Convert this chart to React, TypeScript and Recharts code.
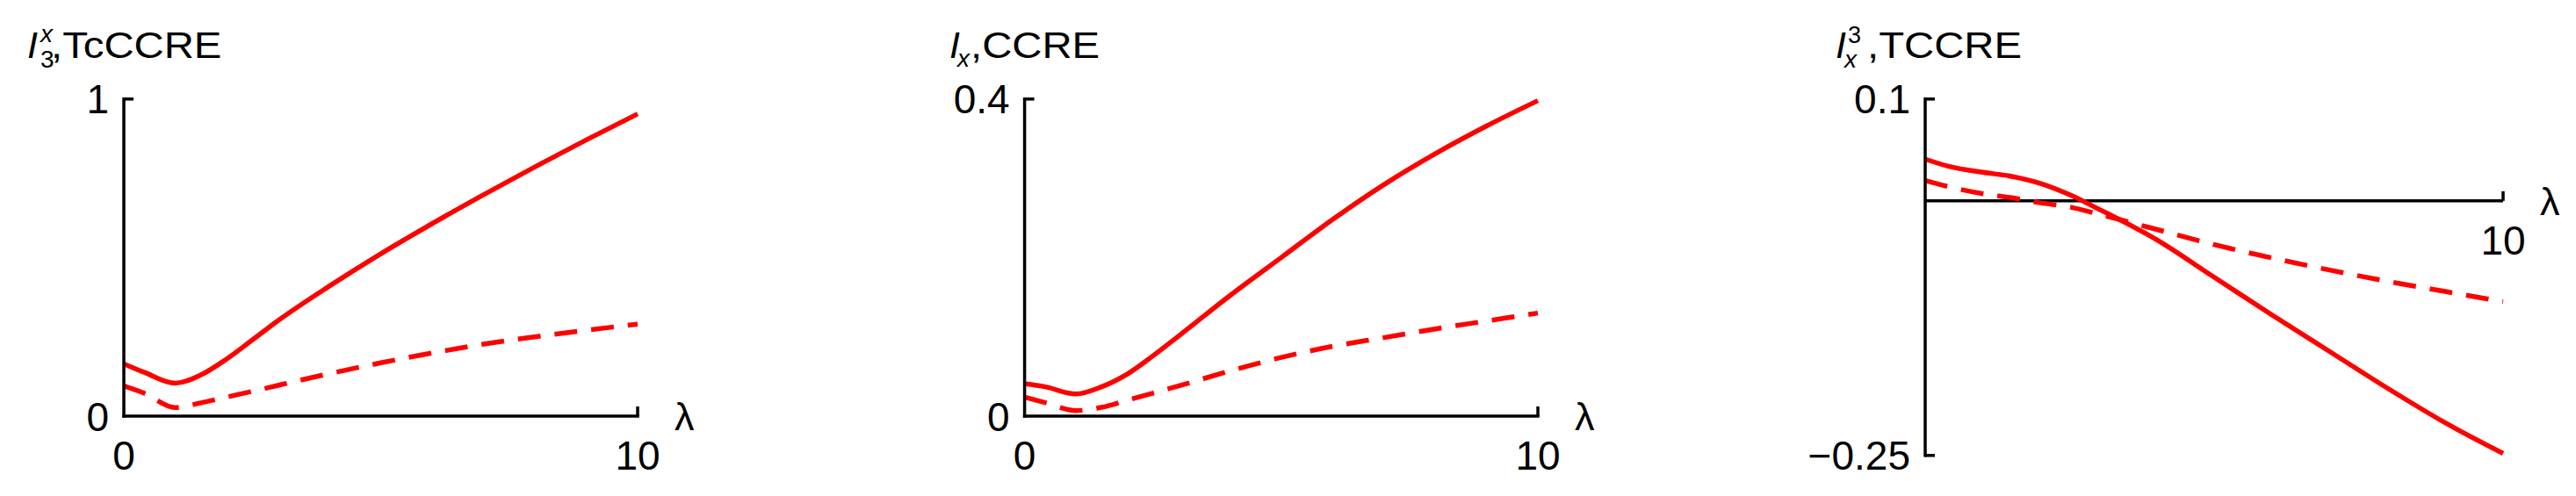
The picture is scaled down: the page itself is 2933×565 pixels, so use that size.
import { LineChart, Line, XAxis, YAxis, ReferenceLine, ReferenceDot } from 'recharts';

// lambda grid shared by all three panels
const lambda = [0, 0.4, 1, 1.5, 2, 2.5, 3, 4, 5, 6, 7, 8, 9, 10];

// left panel: I_3^x / TcCCRE
const tcSolid = [0.165, 0.138, 0.104, 0.13, 0.18, 0.24, 0.301, 0.41, 0.512, 0.607, 0.698, 0.786, 0.871, 0.953];
const tcDashed = [0.095, 0.072, 0.027, 0.042, 0.06, 0.078, 0.097, 0.134, 0.168, 0.199, 0.227, 0.25, 0.271, 0.29];

// middle panel: I_x / CCRE
const cSolid = [0.041, 0.037, 0.028, 0.037, 0.053, 0.076, 0.101, 0.152, 0.2, 0.248, 0.292, 0.331, 0.366, 0.398];
const cDashed = [0.024, 0.017, 0.007, 0.011, 0.02, 0.029, 0.038, 0.057, 0.074, 0.088, 0.099, 0.11, 0.12, 0.13];

// right panel: I_x^3 / TCCRE
const tSolid = [0.041, 0.034, 0.028, 0.024, 0.017, 0.006, -0.008, -0.038, -0.075, -0.112, -0.148, -0.184, -0.218, -0.248];
const tDashed = [0.02, 0.014, 0.007, 0.003, -0.002, -0.006, -0.013, -0.028, -0.043, -0.056, -0.068, -0.079, -0.089, -0.099];

const xTicks = [0, 10];
const yTicks1 = [0, 1];
const yTicks2 = [0, 0.4];
const yTicks3 = [-0.25, 0.1];
const yLabels3: Record<string, string> = { '-0.25': '\u22120.25', '0.1': '0.1' };

const FONT = '"Liberation Sans", Arial, Helvetica, sans-serif';
const RED = '#ff0000';
const AX = 3.5;
const LW = 5.5;
const Y_W = 60;
const X_H = 70;

const build = (a: number[], b: number[]) => lambda.map((l, i) => ({ lambda: l, solid: a[i], dashed: b[i] }));

const data1 = build(tcSolid, tcDashed);
const data2 = build(cSolid, cDashed);
const data3 = build(tSolid, tDashed);

const axisLine = { stroke: '#000', strokeWidth: AX, strokeLinecap: 'square' as const };

function XTick(props: any) {
  const { x, y, payload } = props;
  const last = payload.value === 10;
  return (
    <g>
      {last && <line x1={x} y1={y} x2={x} y2={y - 11} stroke="#000" strokeWidth={AX} />}
      <text x={x} y={y + 61} textAnchor="middle" fontSize={46} fontFamily={FONT} fill="#000">
        {payload.value}
      </text>
      {last && (
        <text x={x + 42} y={y + 16} fontSize={45} fontFamily={FONT} fill="#000">
          λ
        </text>
      )}
    </g>
  );
}

function makeYTick(labels: Record<string, string> | null, tickAt: number[]) {
  return (props: any) => {
    const { x, y, payload } = props;
    const v = payload.value;
    const txt = labels ? labels[String(v)] : String(v);
    return (
      <g>
        {tickAt.includes(v) && <line x1={x} y1={y} x2={x + 11} y2={y} stroke="#000" strokeWidth={AX} />}
        <text x={x - 17} y={y + 16.5} textAnchor="end" fontSize={46} fontFamily={FONT} fill="#000">
          {txt}
        </text>
      </g>
    );
  };
}

function Panel({ left, width, margin, data, domain, yTicks, yTick, zeroAxis }: any) {
  return (
    <div style={{ position: 'absolute', left, top: 0 }}>
      <LineChart width={width} height={565} data={data} margin={margin}>
        <XAxis
          type="number"
          dataKey="lambda"
          domain={[0, 10]}
          ticks={xTicks}
          interval={0}
          height={X_H}
          hide={zeroAxis}
          tickSize={0}
          tickMargin={0}
          axisLine={axisLine}
          tickLine={false}
          tick={XTick}
        />
        <YAxis
          type="number"
          domain={domain}
          ticks={yTicks}
          interval={0}
          width={Y_W}
          tickSize={0}
          tickMargin={0}
          axisLine={axisLine}
          tickLine={false}
          tick={yTick}
        />
        {zeroAxis && <ReferenceLine y={0} stroke="#000" strokeWidth={AX} />}
        {zeroAxis && (
          <ReferenceDot
            x={10}
            y={0}
            r={0}
            ifOverflow="visible"
            shape={(p: any) => (
              <g>
                <line x1={p.cx} y1={p.cy} x2={p.cx} y2={p.cy - 11} stroke="#000" strokeWidth={AX} />
                <text x={p.cx} y={p.cy + 61} textAnchor="middle" fontSize={46} fontFamily={FONT} fill="#000">
                  10
                </text>
                <text x={p.cx + 42} y={p.cy + 16} fontSize={45} fontFamily={FONT} fill="#000">
                  λ
                </text>
              </g>
            )}
          />
        )}
        <Line
          type="monotone"
          dataKey="solid"
          stroke={RED}
          strokeWidth={LW}
          dot={false}
          activeDot={false}
          isAnimationActive={false}
        />
        <Line
          type="monotone"
          dataKey="dashed"
          stroke={RED}
          strokeWidth={LW}
          strokeDasharray="26 16"
          dot={false}
          activeDot={false}
          isAnimationActive={false}
        />
      </LineChart>
    </div>
  );
}

function Titles() {
  const t = { fontFamily: FONT, fill: '#000' };
  return (
    <svg width={2933} height={565} style={{ position: 'absolute', left: 0, top: 0, pointerEvents: 'none' }}>
      {/* I_3^x,TcCCRE */}
      <text x={31} y={66} fontSize={43} fontStyle="italic" {...t}>I</text>
      <text x={46} y={48} fontSize={28} fontStyle="italic" {...t}>x</text>
      <text x={46} y={77} fontSize={28} {...t}>3</text>
      <text transform="translate(58,66) scale(1.1,1)" fontSize={43} {...t}>,TcCCRE</text>

      {/* I_x,CCRE */}
      <text x={1081} y={66} fontSize={43} fontStyle="italic" {...t}>I</text>
      <text x={1090} y={76} fontSize={28} fontStyle="italic" {...t}>x</text>
      <text transform="translate(1105,66) scale(1.1,1)" fontSize={43} {...t}>,CCRE</text>

      {/* I_x^3,TCCRE */}
      <text x={2090} y={66} fontSize={43} fontStyle="italic" {...t}>I</text>
      <text x={2104} y={49} fontSize={27} {...t}>3</text>
      <text x={2100} y={77} fontSize={28} fontStyle="italic" {...t}>x</text>
      <text transform="translate(2126,66) scale(1.1,1)" fontSize={43} {...t}>,TCCRE</text>
    </svg>
  );
}

export default function App() {
  return (
    <div style={{ position: 'absolute', left: 0, top: 0, width: 2933, height: 565, background: '#fff', overflow: 'hidden' }}>
      <Panel
        left={0}
        width={850}
        margin={{ top: 112.8, right: 124, bottom: 565 - 474 - X_H, left: 141 - Y_W }}
        data={data1}
        domain={[0, 1]}
        yTicks={yTicks1}
        yTick={makeYTick(null, [1])}
      />
      <Panel
        left={1000}
        width={880}
        margin={{ top: 112.8, right: 129, bottom: 565 - 474 - X_H, left: 166.6 - Y_W }}
        data={data2}
        domain={[0, 0.4]}
        yTicks={yTicks2}
        yTick={makeYTick(null, [0.4])}
      />
      <Panel
        left={2040}
        width={893}
        margin={{ top: 112.8, right: 83, bottom: 565 - 518.8, left: 152 - Y_W }}
        data={data3}
        domain={[-0.25, 0.1]}
        yTicks={yTicks3}
        yTick={makeYTick(yLabels3, [0.1, -0.25])}
        zeroAxis
      />
      <Titles />
    </div>
  );
}
